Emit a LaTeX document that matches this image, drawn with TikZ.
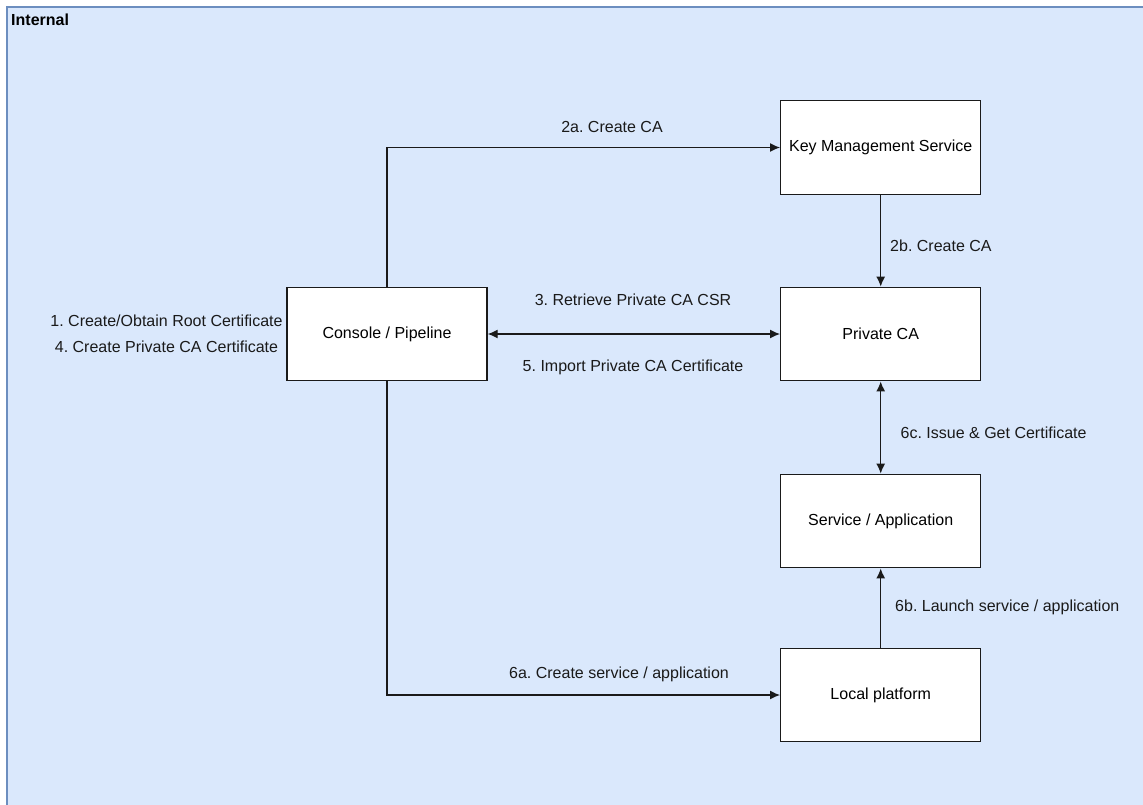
\documentclass[tikz,border=0pt]{standalone}
\usepackage{fontspec}
\setmainfont{Liberation Sans}
\usetikzlibrary{arrows.meta}
\definecolor{groupfill}{HTML}{DAE8FC}
\definecolor{groupline}{HTML}{6C8EBF}
\definecolor{ink}{HTML}{1A1A1A}
\frenchspacing
\begin{document}
\begin{tikzpicture}[x=1pt,y=-1pt,
  font=\fontsize{16}{26}\selectfont,
  box/.style={draw=ink, fill=white, line width=1.33pt, minimum width=200pt, minimum height=93.5pt, inner sep=0pt},
  tip/.tip={Latex[length=10pt,width=9pt]},
  link/.style={draw=ink, line width=1.33pt, -tip},
  dlink/.style={draw=ink, line width=1.33pt, tip-tip},
  lbl/.style={text=ink, inner sep=0pt}]
\useasboundingbox (0,0) rectangle (1143,804);
% container
\fill[groupfill] (7,7) rectangle (1150,810);
\draw[groupline, line width=1.33pt] (1150,7) -- (7,7) -- (7,810);
\node[anchor=base west, font=\fontsize{16}{20}\selectfont\bfseries, inner sep=0pt] (title) at (11,25) {Internal};

% boxes
\node[box] (kms) at (880.7,147.5) {Key Management Service};
\node[box] (con) at (387,334) {Console / Pipeline};
\node[box] (pca) at (880.7,334) {Private CA};
\node[box] (svc) at (880.7,521) {Service / Application};
\node[box] (loc) at (880.7,695) {Local platform};

% connectors
\coordinate (c1) at (con.north |- kms.west);
\draw[link] (con.north) -- (c1) -- (kms.west);
\draw[link] (kms.south) -- (pca.north);
\draw[dlink] (con.east) -- (pca.west);
\draw[dlink] (pca.south) -- (svc.north);
\draw[link] (loc.north) -- (svc.south);
\coordinate (c2) at (con.south |- loc.west);
\draw[link] (con.south) -- (c2) -- (loc.west);

% labels
\node[lbl] (l2a) at (612,127) {2a. Create CA};
\node[lbl, anchor=west] (l2b) at (890,246) {2b. Create CA};
\node[lbl] (l3) at (633,300) {3. Retrieve Private CA CSR};
\node[lbl] (l5) at (633,367) {5. Import Private CA Certificate};
\node[lbl, anchor=west] (l6c) at (900.5,433) {6c. Issue \& Get Certificate};
\node[lbl, anchor=west] (l6b) at (895,607) {6b. Launch service / application};
\node[lbl] (l6a) at (619,674) {6a. Create service / application};
\node[lbl, align=center] (l14) at (166.5,334) {1. Create/Obtain Root Certificate\\4. Create Private CA Certificate};
\end{tikzpicture}
\end{document}
